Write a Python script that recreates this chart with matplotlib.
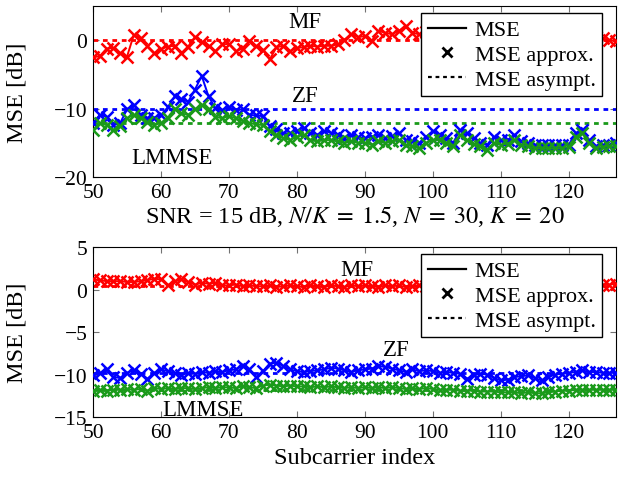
import numpy as np
import matplotlib
matplotlib.use("Agg")
import matplotlib.pyplot as plt
from matplotlib.lines import Line2D

plt.rcParams['font.family'] = ['Liberation Serif', 'DejaVu Serif']
plt.rcParams['mathtext.fontset'] = 'stix'
plt.rcParams['font.size'] = 15.5

# subcarrier indices 50..127
subcarrier = np.arange(50, 128)

# --- top panel: SNR = 15 dB, N/K = 1.5 ---
mf_top = [-2.5, -2.3, -1.2, -1.1, -1.9, -2.4, 0.8, 0.3, -0.8, -1.9,
          -1.3, -0.9, -0.8, -1.9, -0.9, 0.5, -0.2, -0.8, -1.6, -0.6,
          -0.5, -1.6, -1.2, -0.1, -0.8, -1.4, -2.8, -1.0, -0.8, -1.6,
          -1.1, -1.0, -0.8, -0.9, -0.8, -0.8, -0.6, 0.1, 0.9, 0.5,
          0.6, -0.1, 1.4, 1.1, 0.9, 1.4, 2.1, 1.1, 0.9, 1.2,
          1.9, 1.5, 1.2, 1.0, 1.6, 1.2, 1.0, 1.3, 0.9, 1.1,
          1.0, 0.8, 1.2, 0.9, 0.7, 1.0, 0.8, 0.6, 0.9, 0.7,
          0.5, 0.8, 0.6, 0.4, 0.5, 0.3, 0.0, -0.1]
zf_top = [-12.1, -10.9, -11.2, -12.4, -12.1, -10.1, -9.4, -10.9, -11.4, -11.3,
          -11.0, -9.8, -8.2, -8.6, -9.0, -7.2, -5.2, -8.2, -9.9, -10.2,
          -9.8, -10.2, -10.1, -10.9, -11.0, -11.1, -12.6, -13.0, -13.6, -13.6,
          -13.2, -12.8, -13.6, -13.8, -13.3, -13.5, -13.8, -14.3, -13.8, -14.2,
          -14.3, -14.1, -13.8, -14.3, -14.0, -13.6, -14.6, -14.8, -15.0, -14.1,
          -13.3, -13.8, -14.3, -15.0, -13.1, -13.6, -14.3, -15.0, -15.3, -14.1,
          -14.6, -14.6, -13.8, -14.8, -15.0, -15.3, -15.3, -15.3, -15.3, -15.3,
          -15.3, -13.6, -13.1, -14.6, -15.5, -15.3, -15.3, -15.0]
lmmse_top = [-13.1, -12.1, -12.4, -13.1, -12.6, -11.4, -10.9, -11.4, -12.0, -12.4,
             -12.1, -11.3, -10.1, -10.7, -10.9, -10.1, -9.4, -10.1, -11.2, -11.4,
             -11.1, -11.4, -11.8, -12.1, -12.3, -12.4, -13.3, -13.8, -14.3, -14.6,
             -14.1, -13.8, -14.6, -14.8, -14.6, -14.6, -14.8, -15.0, -14.8, -15.0,
             -15.0, -15.3, -14.8, -15.0, -14.8, -14.6, -15.3, -15.5, -15.8, -15.0,
             -14.6, -14.6, -15.0, -15.5, -13.8, -14.6, -15.2, -15.5, -16.0, -15.0,
             -15.3, -15.1, -14.6, -15.3, -15.5, -15.8, -15.8, -15.8, -15.8, -15.8,
             -15.6, -14.1, -13.6, -15.0, -15.8, -15.6, -15.5, -15.5]
asympt_top = {'MF': 0.0, 'ZF': -10.1, 'LMMSE': -12.1}

# --- bottom panel ---
mf_bot = [1.2, 1.1, 1.0, 1.0, 1.0, 0.9, 0.9, 1.0, 1.1, 1.3,
          1.2, 0.5, 1.0, 1.2, 0.9, 0.6, 0.8, 0.7, 0.8, 0.5,
          0.5, 0.6, 0.4, 0.5, 0.4, 0.4, 0.5, 0.3, 0.4, 0.5,
          0.4, 0.3, 0.5, 0.4, 0.3, 0.5, 0.4, 0.3, 0.5, 0.4,
          0.5, 0.4, 0.3, 0.5, 0.4, 0.5, 0.3, 0.4, 0.5, 0.4,
          0.5, 0.4, 0.5, 0.4, 0.5, 0.5, 0.4, 0.5, 0.6, 0.5,
          0.4, 0.5, 0.5, 0.6, 0.5, 0.5, 0.6, 0.5, 0.6, 0.5,
          0.6, 0.5, 0.6, 0.6, 0.5, 0.6, 0.6, 0.7]
zf_bot = [-10.1, -9.8, -9.4, -10.3, -10.4, -9.8, -9.5, -9.9, -10.5, -9.8,
          -9.4, -9.6, -9.8, -10.1, -9.8, -9.9, -9.7, -9.8, -9.6, -9.7,
          -9.5, -9.4, -9.0, -9.4, -10.3, -9.6, -8.7, -8.6, -9.0, -9.4,
          -9.6, -9.7, -9.6, -9.5, -9.4, -9.2, -9.3, -9.5, -9.7, -9.5,
          -9.4, -9.3, -9.0, -9.1, -9.3, -9.5, -9.7, -9.4, -9.6, -9.5,
          -9.6, -9.8, -9.7, -9.8, -9.9, -10.5, -10.1, -9.9, -10.0, -10.4,
          -10.7, -10.6, -10.3, -10.2, -10.1, -10.4, -10.7, -10.3, -10.0, -9.9,
          -9.8, -9.7, -9.5, -9.7, -9.7, -9.8, -9.8, -9.8]
lmmse_bot = [-11.9, -11.8, -11.9, -11.8, -11.8, -11.7, -11.8, -11.7, -11.9, -11.6,
             -11.7, -11.6, -11.7, -11.6, -11.6, -11.7, -11.6, -11.5, -11.6, -11.5,
             -11.5, -11.6, -11.4, -11.5, -11.6, -11.3, -11.2, -11.3, -11.4, -11.3,
             -11.4, -11.4, -11.5, -11.4, -11.5, -11.4, -11.5, -11.6, -11.5, -11.6,
             -11.5, -11.6, -11.5, -11.6, -11.5, -11.6, -11.7, -11.6, -11.7, -11.6,
             -11.7, -11.8, -11.8, -11.8, -11.9, -11.9, -11.9, -12.0, -12.0, -12.0,
             -12.1, -12.1, -12.1, -12.2, -12.1, -12.2, -12.2, -12.1, -12.0, -11.9,
             -11.9, -11.8, -11.8, -11.8, -11.8, -11.8, -11.8, -11.8]
asympt_bot = {'MF': 0.4, 'ZF': -9.8, 'LMMSE': -11.8}

colors = {'MF': 'red', 'ZF': 'blue', 'LMMSE': '#1a9a1a'}
dash = (0, (1.7, 1.7))
label_size = 17.5


def draw_panel(ax, series, asympt, labels_pos, ylim, yticks):
    for name, vals in series.items():
        c = colors[name]
        ax.axhline(asympt[name], color=c, lw=2.0, ls=dash, zorder=2)
        ax.plot(subcarrier, vals, '-', color=c, lw=1.4, zorder=3)
        ax.plot(subcarrier, vals, 'x', color=c, ms=8, mew=1.8, zorder=3)
    for name, (lx, ly) in labels_pos.items():
        ax.text(lx, ly, name, ha='center', va='center', fontsize=16.5)
    ax.set_xlim(50, 127)
    ax.set_ylim(*ylim)
    ax.set_yticks(yticks)
    ax.set_xticks(np.arange(50, 121, 10))
    ax.tick_params(direction='in', top=True, right=True, length=4,
                   color='0.45', pad=4)
    ax.set_ylabel('MSE [dB]', fontsize=label_size)
    ax.yaxis.set_label_coords(-0.125, 0.5)
    handles = [Line2D([], [], color='k', lw=1.6),
               Line2D([], [], color='k', ls='none', marker='x', ms=7, mew=2),
               Line2D([], [], color='k', lw=1.6, ls=dash)]
    leg = ax.legend(handles, ['MSE', 'MSE approx.', 'MSE asympt.'],
                    loc='upper right', bbox_to_anchor=(0.982, 0.985),
                    fancybox=False, framealpha=1, edgecolor='k',
                    fontsize=16, labelspacing=0.18, handlelength=1.7,
                    handletextpad=0.4, borderpad=0.3, borderaxespad=0.2)
    leg.get_frame().set_linewidth(1.0)
    leg.set_zorder(5)


fig = plt.figure(figsize=(6.2, 4.81), dpi=100)
ax1 = fig.add_axes([0.150, 0.630, 0.844, 0.355])
ax2 = fig.add_axes([0.150, 0.131, 0.844, 0.353])

draw_panel(ax1, {'MF': mf_top, 'ZF': zf_top, 'LMMSE': lmmse_top}, asympt_top,
           {'MF': (81.2, 2.8), 'ZF': (81.2, -8.1), 'LMMSE': (61.6, -17.1)},
           (-20, 5), [-20, -10, 0])
ax1.set_xlabel(r'SNR = 15 dB, $N/K\;=\;1.5$, $N\;=\;30$, $K\;=\;20$',
               fontsize=label_size, labelpad=1)

draw_panel(ax2, {'MF': mf_bot, 'ZF': zf_bot, 'LMMSE': lmmse_bot}, asympt_bot,
           {'MF': (88.8, 2.4), 'ZF': (94.7, -7.0), 'LMMSE': (66.2, -14.1)},
           (-15, 5), [-15, -10, -5, 0, 5])
ax2.set_xlabel('Subcarrier index', fontsize=label_size, labelpad=4)

fig.savefig('out.png', dpi=100)
